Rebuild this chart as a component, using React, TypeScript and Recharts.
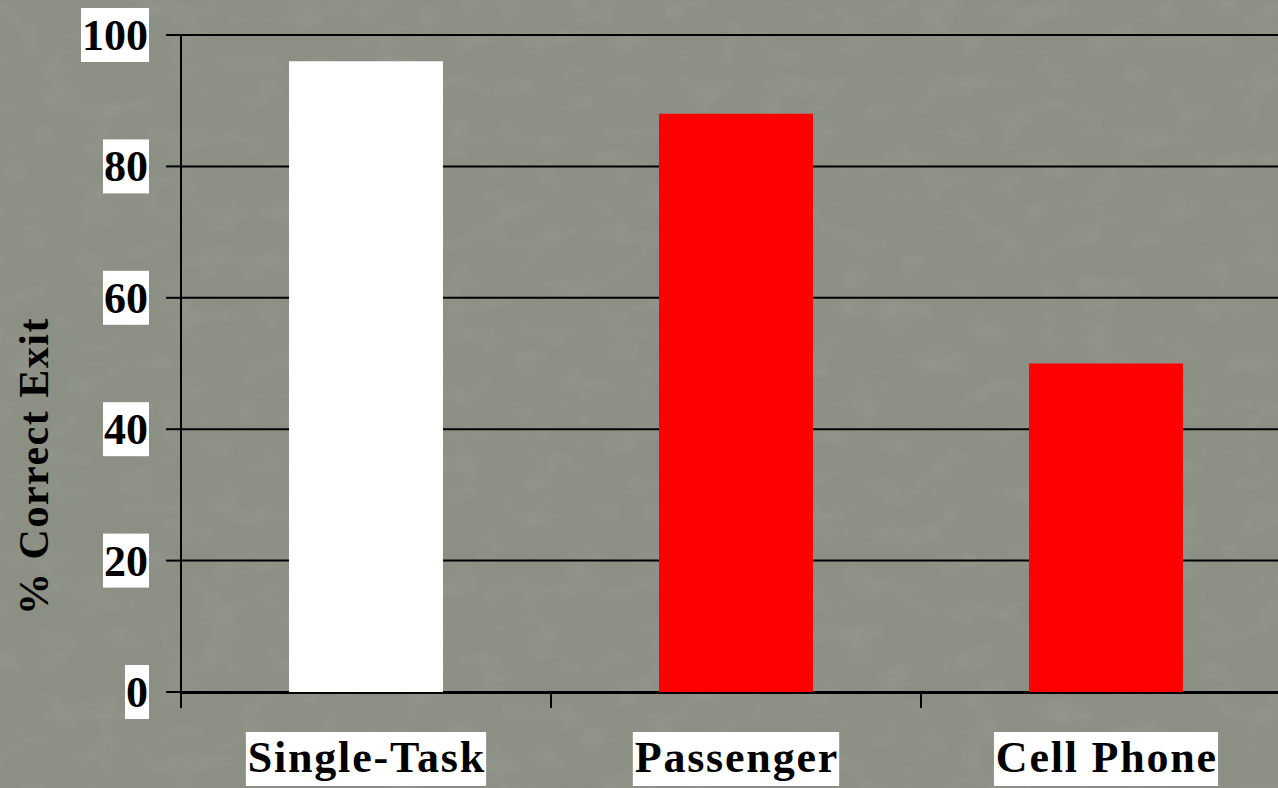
import React from 'react';
import { BarChart, Bar, XAxis, YAxis, CartesianGrid, Cell, Label } from 'recharts';

// Exit-ramp accuracy per driving condition
const conditions = ['Single-Task', 'Passenger', 'Cell Phone'];
const correctExit = [96, 88, 50];
const barColors = ['#FFFFFF', '#FF0000', '#FF0000'];
const yTicks = [0, 20, 40, 60, 80, 100];
const boundaryTicks = [0, 1, 2, 3];

const data = conditions.map((name, i) => ({ name, value: correctExit[i], slot: i + 0.5 }));

const FONT = "'Liberation Serif', 'Times New Roman', serif";
const FONT_SIZE = 44;
const X_SPACING = 1.8;

let ctx: CanvasRenderingContext2D | null = null;
function textWidth(s: string, spacing = 0): number {
  let w = s.length * FONT_SIZE * 0.5;
  if (typeof document !== 'undefined') {
    if (!ctx) ctx = document.createElement('canvas').getContext('2d');
    if (ctx) {
      ctx.font = `bold ${FONT_SIZE}px ${FONT}`;
      w = ctx.measureText(s).width;
    }
  }
  return w + spacing * s.length;
}

// Y tick: number on a white box, right-aligned beside the tick mark
const YTick = (props: any) => {
  const { x, y, payload } = props;
  const label = String(payload.value);
  const w = textWidth(label);
  return (
    <g>
      <rect x={x - w - 1} y={y - 27} width={w + 2} height={54} fill="#FFFFFF" />
      <text x={x} y={y + 15} textAnchor="end" fontFamily={FONT} fontWeight="bold" fontSize={FONT_SIZE} fill="#000">
        {label}
      </text>
    </g>
  );
};

// X tick: category name on a white box, centred below its slot
const XTick = (props: any) => {
  const { x, y, payload } = props;
  const label = String(payload.value);
  const w = textWidth(label, X_SPACING);
  return (
    <g>
      <rect x={x - w / 2 - 1} y={y + 40} width={w + 2} height={54} fill="#FFFFFF" />
      <text
        x={x + X_SPACING / 2}
        y={y + 80}
        textAnchor="middle"
        fontFamily={FONT}
        fontWeight="bold"
        fontSize={FONT_SIZE}
        letterSpacing={X_SPACING}
        fill="#000"
      >
        {label}
      </text>
    </g>
  );
};

// Boundary axis only shows tick marks, no text
const NoLabel = () => <g />;

const YTitle = () => (
  <text
    x={34}
    y={466}
    transform="rotate(-90, 34, 466)"
    textAnchor="middle"
    dominantBaseline="central"
    fontFamily={FONT}
    fontWeight="bold"
    fontSize={42}
    letterSpacing={1.5}
    fill="#000"
  >
    % Correct Exit
  </text>
);

// Mottled paper backdrop
const Backdrop = () => (
  <svg width={1278} height={788} style={{ position: 'absolute', left: 0, top: 0 }}>
    <defs>
      <filter id="paper" x="0" y="0" width="100%" height="100%">
        <feTurbulence type="fractalNoise" baseFrequency="0.025 0.04" numOctaves={4} seed={7} result="noise" />
        <feColorMatrix
          in="noise"
          type="matrix"
          values="0 0 0 0 0.48  0 0 0 0 0.50  0 0 0 0 0.44  0 0 0 -1.8 1.0"
        />
      </filter>
    </defs>
    <rect width={1278} height={788} fill="#8c8f83" />
    <rect width={1278} height={788} filter="url(#paper)" opacity={0.18} />
  </svg>
);

export default function App() {
  return (
    <div
      style={{
        position: 'absolute',
        left: 0,
        top: 0,
        width: 1278,
        height: 788,
        overflow: 'hidden',
        background: '#8c8f83',
      }}
    >
      <Backdrop />
      <div style={{ position: 'absolute', left: 0, top: 0 }}>
        <BarChart
          width={1300}
          height={788}
          data={data}
          margin={{ top: 35, right: 9, bottom: 94, left: 0 }}
          barCategoryGap={0}
        >
          <CartesianGrid horizontal vertical={false} stroke="#000" strokeWidth={2} />
          <XAxis
            xAxisId="edge"
            type="number"
            dataKey="slot"
            domain={[0, 3]}
            ticks={boundaryTicks}
            interval={0}
            height={1}
            axisLine={{ stroke: '#000', strokeWidth: 2 }}
            tickLine={{ stroke: '#000', strokeWidth: 2 }}
            tickSize={15}
            tick={<NoLabel />}
          />
          <XAxis
            dataKey="name"
            xAxisId="cat"
            height={1}
            axisLine={false}
            tickLine={false}
            tickSize={0}
            tickMargin={0}
            tick={<XTick />}
            interval={0}
          />
          <YAxis
            width={181}
            domain={[0, 100]}
            ticks={yTicks}
            interval={0}
            axisLine={{ stroke: '#000', strokeWidth: 2 }}
            tickLine={{ stroke: '#000', strokeWidth: 2 }}
            tickSize={15}
            tickMargin={18}
            tick={<YTick />}
          >
            <Label content={<YTitle />} />
          </YAxis>
          <Bar dataKey="value" xAxisId="cat" barSize={154} isAnimationActive={false}>
            {data.map((d, i) => (
              <Cell key={d.name} fill={barColors[i]} />
            ))}
          </Bar>
        </BarChart>
      </div>
    </div>
  );
}
